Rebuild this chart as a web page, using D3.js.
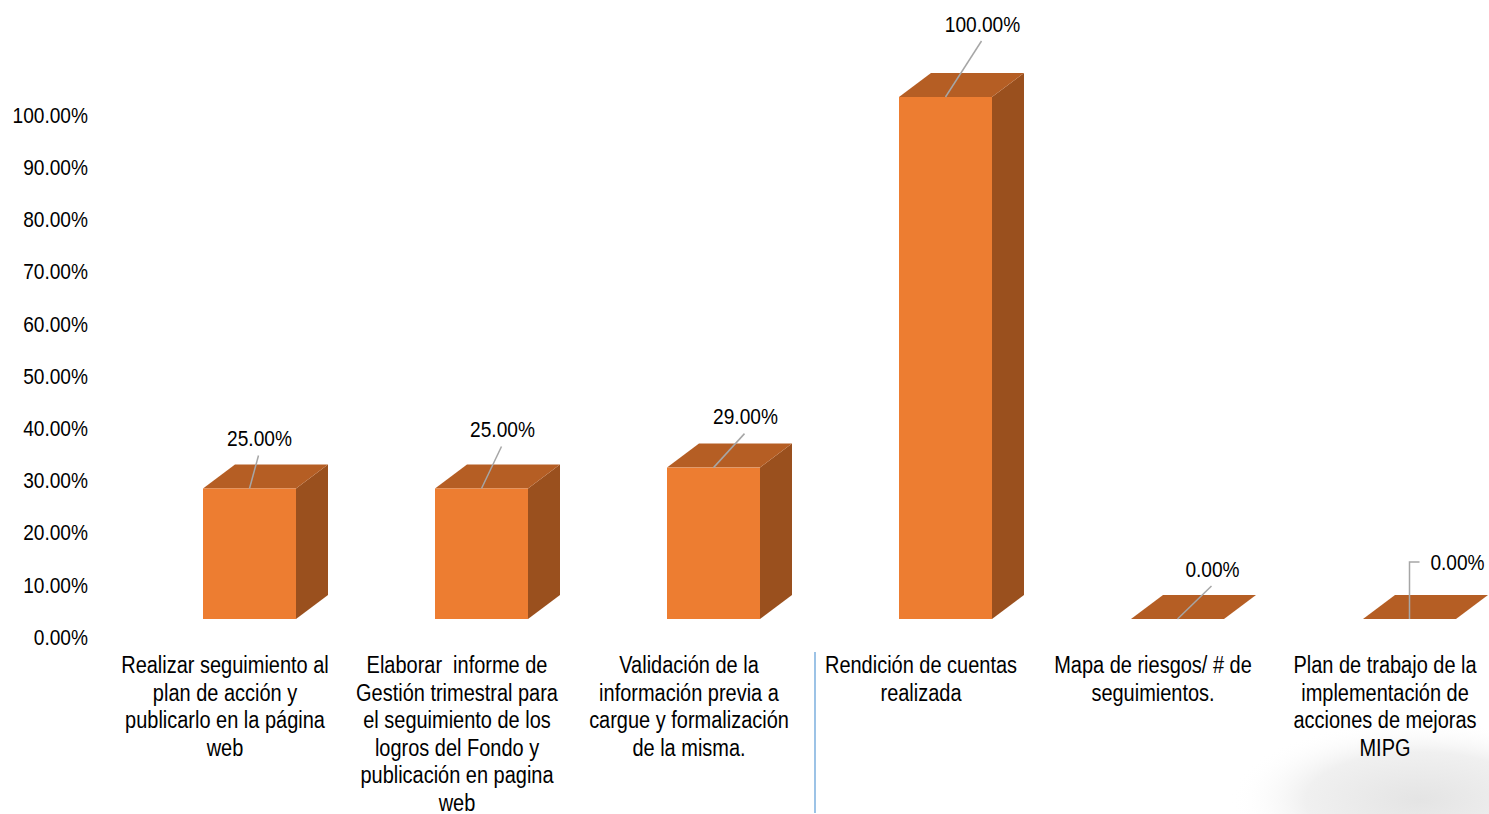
<!DOCTYPE html>
<meta charset="utf-8">
<style>
body { margin: 0; background: #fff; }
svg text { font-family: "Liberation Sans", Arial, sans-serif; fill: #000; white-space: pre; }
</style>
<body>
<svg width="1489" height="814"></svg>
<script src="https://d3js.org/d3.v7.min.js"></script>
<script>
var categories = [
  ["Realizar seguimiento al", "plan de acción y", "publicarlo en la página", "web"],
  ["Elaborar  informe de", "Gestión trimestral para", "el seguimiento de los", "logros del Fondo y", "publicación en pagina", "web"],
  ["Validación de la", "información previa a", "cargue y formalización", "de la misma."],
  ["Rendición de cuentas", "realizada"],
  ["Mapa de riesgos/ # de", "seguimientos."],
  ["Plan de trabajo de la", "implementación de", "acciones de mejoras", "MIPG"]
];
var values = [0.25, 0.25, 0.29, 1.00, 0.00, 0.00];
var ticks = [0, 0.1, 0.2, 0.3, 0.4, 0.5, 0.6, 0.7, 0.8, 0.9, 1.0];

// label placement relative to front-top centre of each bar
var labelOffsets = [[10, -50], [21, -59], [32, -51], [37, -73], [35, -50], [48, -57]];

var svg = d3.select("svg");
var ids = d3.range(categories.length);

var x = d3.scaleBand().domain(ids).range([110, 110 + 232 * 6]);
var y = d3.scaleLinear().domain([0, 1]).range([619, 97]);
var fmt = d3.format(".2%");

var depthX = 32, depthY = -24, frontW = 93;
var narrow = "scale(0.85,1)"; // imitate Arial Narrow

// faint grey smudge bottom right
var defs = svg.append("defs");
var rg = defs.append("radialGradient").attr("id", "smudge");
rg.append("stop").attr("offset", "0%").attr("stop-color", "#e4e4e4");
rg.append("stop").attr("offset", "60%").attr("stop-color", "#f0f0f0");
rg.append("stop").attr("offset", "100%").attr("stop-color", "#fff").attr("stop-opacity", 0);
svg.append("ellipse")
    .attr("cx", 1420).attr("cy", 800).attr("rx", 190).attr("ry", 80)
    .attr("fill", "url(#smudge)");

// y axis
svg.append("g")
    .attr("transform", "translate(88,18)")
    .call(d3.axisLeft(y).tickValues(ticks).tickSize(0).tickPadding(0).tickFormat(fmt))
    .call(function(g) { g.select(".domain").remove(); })
    .selectAll("text")
      .attr("transform", narrow)
      .style("font-size", "22.5px")
      .attr("fill", "#000");

// divider
svg.append("line")
    .attr("x1", 815).attr("x2", 815).attr("y1", 652).attr("y2", 813)
    .attr("stroke", "#5b9bd5").attr("stroke-width", 1.2);

var bar = svg.selectAll(".bar")
  .data(ids)
  .enter().append("g")
    .attr("class", "bar");

function left(i) { return x(i) + x.bandwidth() / 2 - 23; }

bar.append("path")
    .attr("fill", "#9a501e")
    .attr("d", function(i) {
      var x0 = left(i) + frontW, yt = y(values[i]), yb = y(0);
      if (values[i] === 0) return "";
      return "M" + x0 + "," + yb + "L" + x0 + "," + yt + "L" + (x0 + depthX) + "," + (yt + depthY) +
             "L" + (x0 + depthX) + "," + (yb + depthY) + "Z";
    });

bar.append("path")
    .attr("fill", "#b55e24")
    .attr("d", function(i) {
      var x0 = left(i), yt = y(values[i]);
      return "M" + x0 + "," + yt + "L" + (x0 + frontW) + "," + yt + "L" + (x0 + frontW + depthX) + "," + (yt + depthY) +
             "L" + (x0 + depthX) + "," + (yt + depthY) + "Z";
    });

bar.append("rect")
    .attr("fill", "#ed7d31")
    .attr("x", function(i) { return left(i); })
    .attr("y", function(i) { return y(values[i]); })
    .attr("width", frontW)
    .attr("height", function(i) { return y(0) - y(values[i]); });

// leader lines
bar.append("path")
    .attr("fill", "none")
    .attr("stroke", "#a6a6a6")
    .attr("stroke-width", 1.5)
    .attr("d", function(i) {
      var cx = left(i) + frontW / 2, cy = y(values[i]);
      var o = labelOffsets[i];
      if (i === 5) {
        return "M" + (cx + o[0] - 38) + "," + (cy + o[1]) + "L" + cx + "," + (cy + o[1]) + "L" + cx + "," + cy;
      }
      return "M" + (cx + o[0] - 1) + "," + (cy + o[1] + 17) + "L" + cx + "," + cy;
    });

bar.append("text")
    .attr("transform", function(i) {
      return "translate(" + (left(i) + frontW / 2 + labelOffsets[i][0]) + "," + (y(values[i]) + labelOffsets[i][1]) + ")" + narrow;
    })
    .attr("dy", "0.35em")
    .attr("text-anchor", "middle")
    .style("font-size", "22.5px")
    .text(function(i) { return fmt(values[i]); });

// category labels
var cat = svg.selectAll(".cat")
  .data(ids)
  .enter().append("text")
    .attr("class", "cat")
    .attr("text-anchor", "middle")
    .style("font-size", "23.5px")
    .attr("transform", function(i) { return "translate(" + (x(i) + x.bandwidth() / 2 - 1) + ",673)" + narrow; });

cat.selectAll("tspan")
  .data(function(i) { return categories[i]; })
  .enter().append("tspan")
    .attr("x", 0)
    .attr("y", function(d, j) { return j * 27.6; })
    .text(function(d) { return d; });
</script>
</body>
